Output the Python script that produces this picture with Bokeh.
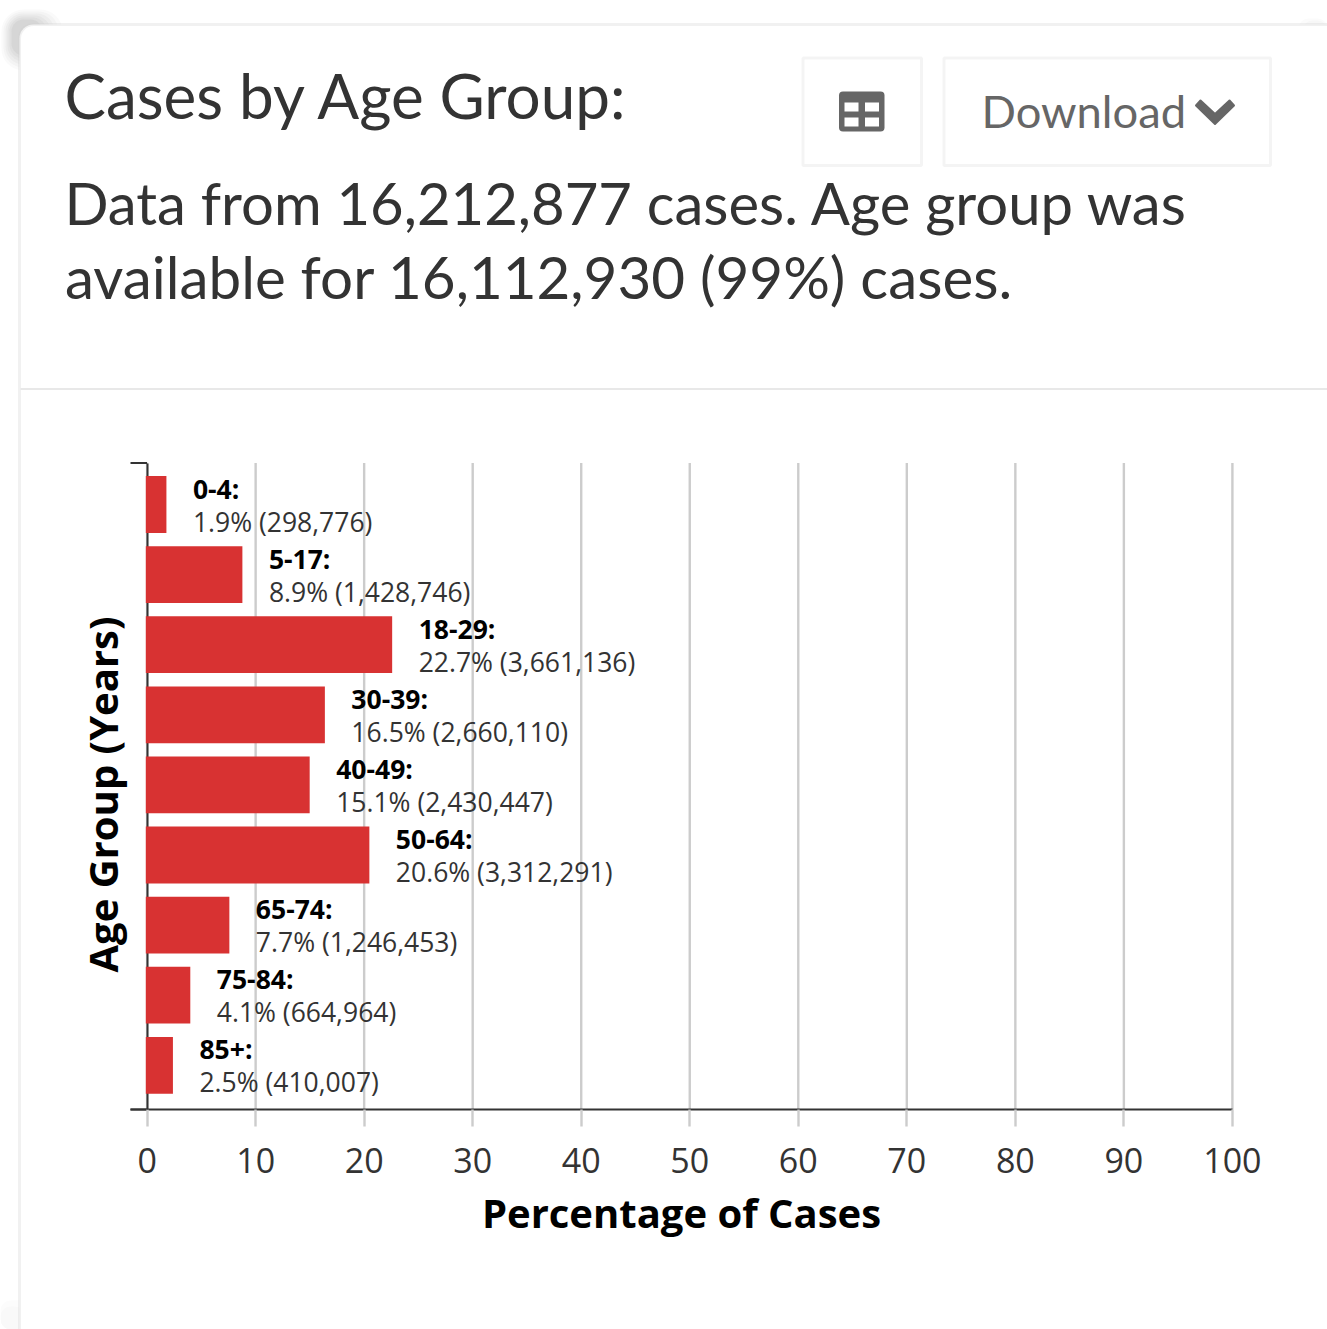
from math import pi
from bokeh.plotting import figure
from bokeh.embed import file_html
from bokeh.resources import INLINE
from bokeh.models import Range1d, FixedTicker, BoxAnnotation, ColumnDataSource
from bokeh.core.properties import value

age_groups = ["0-4", "5-17", "18-29", "30-39", "40-49", "50-64", "65-74", "75-84", "85+"]
percent = [1.9, 8.9, 22.7, 16.5, 15.1, 20.6, 7.7, 4.1, 2.5]
cases = ["298,776", "1,428,746", "3,661,136", "2,660,110", "2,430,447",
         "3,312,291", "1,246,453", "664,964", "410,007"]
x_ticks = [0, 10, 20, 30, 40, 50, 60, 70, 80, 90, 100]

title_text = "Cases by Age Group:"
desc_lines = ["Data from 16,212,877 cases. Age group was",
              "available for 16,112,930 (99%) cases."]
x_title = "Percentage of Cases"
y_title = "Age Group (Years)"

W, H = 1327, 1329
# chart scale: pixel of value 0 and pixels per percent, pixel of first row and pixels per row
X0, XS = 146.6, 10.853
Y0, YS = 504.0, 70.1


def row_of(py):
    return (py - Y0) / YS


def pct_of(px):
    return (px - X0) / XS


rows = list(range(len(age_groups)))
src = ColumnDataSource(dict(
    y=rows,
    pct=percent,
    head=[a + ":" for a in age_groups],
    body=[f"{p}% ({c})" for p, c in zip(percent, cases)],
))

p = figure(width=W, height=H, output_backend="svg", toolbar_location=None,
           x_range=Range1d(pct_of(0), pct_of(W)), y_range=Range1d(row_of(H), row_of(0)),
           min_border=0, frame_width=W, frame_height=H,
           background_fill_color="white", border_fill_color="white", outline_line_color=None)
p.extra_x_ranges["bars"] = Range1d(pct_of(0) + 0.12, pct_of(W) + 0.12)
p.extra_x_ranges["page_x"] = Range1d(0, W)
p.extra_y_ranges["page_y"] = Range1d(H, 0)
PAGE = dict(x_range_name="page_x", y_range_name="page_y")


def box(l, t, r, b, fill, alpha=1.0, line=None, lw=1, rad=0):
    p.add_layout(BoxAnnotation(left=l, right=r, top=t, bottom=b, **PAGE, fill_color=fill, fill_alpha=alpha,
                               line_color=line, line_width=lw, border_radius=rad, level="image"))


# page chrome: soft shadows, card, separator, buttons, table icon, chevron
for (l, t, r, b, a, rad) in [(1, 9, 62, 70, 0.04, 22), (3, 11, 58, 67, 0.05, 20), (5, 13, 54, 64, 0.06, 18),
                             (7, 15, 50, 61, 0.07, 16), (9, 17, 46, 58, 0.08, 14), (11, 19, 42, 55, 0.09, 12),
                             (1298, 18, 1327, 40, 0.03, 10), (1302, 20, 1327, 40, 0.03, 10),
                             (0, 1300, 30, 1329, 0.025, 10), (0, 1306, 24, 1329, 0.025, 10)]:
    box(l, t, r, b, "#888888", a, rad=rad)
box(19, 24, 1345, 1345, "white", line="#d0d0d0", lw=3, rad=14)
box(20, 387.5, 1340, 389.5, "#e8e8e8")
for (l, r) in [(802.5, 921), (943.5, 1270)]:
    box(l, 57.5, r, 165, "white", line="#dadada", lw=3)
box(838.5, 91, 884, 131, "#666666", rad=4)
for (l, r) in [(844, 858), (864.5, 878.5)]:
    for (t, b) in [(102, 111), (117, 126)]:
        box(l, t, r, b, "white")
p.patch([1200, 1214.5, 1229, 1233.5, 1214.5, 1195.5], [100, 113.5, 100, 105, 123.5, 105], **PAGE,
        fill_color="#666666", line_color="#666666", line_width=2, line_join="round")


def page_text(text, x, y, size, color="#333333", font="Lato", style="normal", align="left", angle=0):
    p.text([x], [y], text=[text], **PAGE, text_font=value(font), text_font_size=size, text_color=color,
           text_font_style=style, text_baseline="alphabetic", text_align=align, angle=angle, level="annotation")


page_text(title_text, 64, 94, "62px")
page_text(desc_lines[0], 64, 202, "58px")
page_text(desc_lines[1], 64.5, 275, "58.3px")
page_text("Download", 981, 110, "45.3px", color="#666666")
page_text(y_title, 102, 794, "40px", color="#000000", font="Open Sans", style="bold", align="center", angle=pi / 2)

# chart
p.xgrid.visible = False
p.ygrid.visible = False
top_row, bottom_row = row_of(462.5), row_of(1109)
left_pct = pct_of(130)
p.segment(x0=x_ticks, x1=x_ticks, y0=[top_row] * len(x_ticks), y1=[bottom_row] * len(x_ticks),
          line_color="#cccccc", line_width=2.4)

xa = p.xaxis[0]
xa.fixed_location = bottom_row
xa.bounds = (left_pct, 100)
xa.ticker = FixedTicker(ticks=x_ticks)
xa.axis_line_color = "#333333"
xa.axis_line_width = 2
xa.major_tick_in = 0
xa.major_tick_out = 17
xa.major_tick_line_color = "#cccccc"
xa.major_tick_line_width = 2.4
xa.minor_tick_line_color = None
xa.major_label_text_font = "Open Sans"
xa.major_label_text_font_size = "34px"
xa.major_label_text_color = "#333333"
xa.major_label_standoff = 21
xa.axis_label = x_title
xa.axis_label_text_font = "Open Sans"
xa.axis_label_text_font_size = "40px"
xa.axis_label_text_font_style = "bold"
xa.axis_label_text_color = "#000000"
xa.axis_label_standoff = 9

ya = p.yaxis[0]
ya.fixed_location = 0
ya.bounds = (top_row, bottom_row)
ya.ticker = FixedTicker(ticks=[])
ya.axis_line_color = "#333333"
ya.axis_line_width = 2
ya.major_tick_line_color = None
ya.minor_tick_line_color = None
# the two outer ticks of the row axis
p.segment(x0=[left_pct] * 2, x1=[0] * 2, y0=[top_row, bottom_row], y1=[top_row, bottom_row],
          line_color="#333333", line_width=2)

p.hbar(y="y", left=0, right="pct", height=0.81, source=src, x_range_name="bars",
       fill_color="#d83232", line_color=None, level="annotation")
p.text(x="pct", y="y", text="head", source=src, x_range_name="bars", x_offset=26.5, y_offset=-16,
       text_font=value("Open Sans"), text_font_size="26.5px", text_font_style="bold",
       text_color="#000000", text_baseline="alphabetic", level="annotation")
p.text(x="pct", y="y", text="body", source=src, x_range_name="bars", x_offset=26.5, y_offset=17,
       text_font=value("Open Sans"), text_font_size="26.5px", text_color="#333333",
       text_baseline="alphabetic", level="annotation")

open("out.html", "w").write(file_html(p, INLINE))
